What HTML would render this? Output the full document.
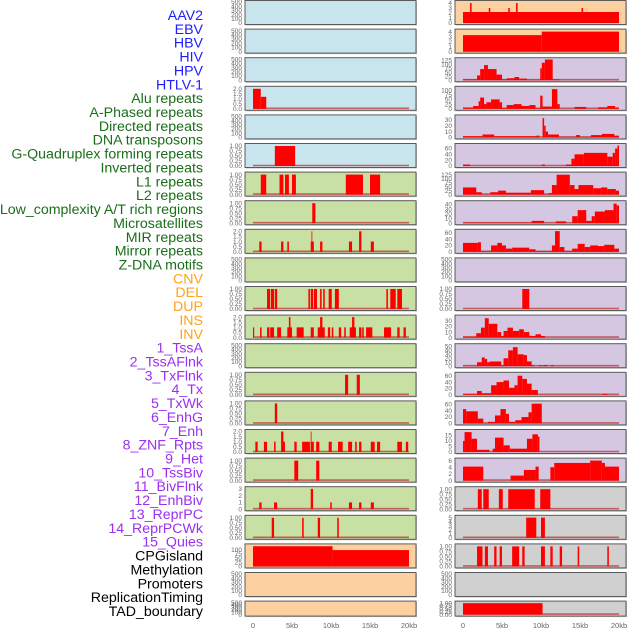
<!DOCTYPE html>
<html><head><meta charset="utf-8"><style>
html,body{margin:0;padding:0;background:#fff;}
svg{display:block;font-family:"Liberation Sans",sans-serif;}
</style></head><body>
<svg id="chart" width="630" height="630" viewBox="0 0 630 630" xmlns="http://www.w3.org/2000/svg"></svg>
<script>
// ---- labels ----
const labelNames = ["AAV2","EBV","HBV","HIV","HPV","HTLV-1","Alu repeats","A-Phased repeats","Directed repeats","DNA transposons","G-Quadruplex forming repeats","Inverted repeats","L1 repeats","L2 repeats","Low_complexity A/T rich regions","Microsatellites","MIR repeats","Mirror repeats","Z-DNA motifs","CNV","DEL","DUP","INS","INV","1_TssA","2_TssAFlnk","3_TxFlnk","4_Tx","5_TxWk","6_EnhG","7_Enh","8_ZNF_Rpts","9_Het","10_TssBiv","11_BivFlnk","12_EnhBiv","13_ReprPC","14_ReprPCWk","15_Quies","CPGisland","Methylation","Promoters","ReplicationTiming","TAD_boundary"];
const labelGroups = ["b","b","b","b","b","b","g","g","g","g","g","g","g","g","g","g","g","g","g","o","o","o","o","o","p","p","p","p","p","p","p","p","p","p","p","p","p","p","p","k","k","k","k","k"];
const xTickValues = [0,5,10,15,20];
const xTickLabels = ["0","5kb","10kb","15kb","20kb"];

// ---- tick sets ----
const T500 = [0,100,200,300,400,500];
const T1 = [0,0.25,0.5,0.75,1];
const T2 = [0,0.5,1,1.5,2];
const T3 = [0,1,2,3];
const T4 = [0,1,2,3,4];
const T5 = [0,1,2,3,4,5];
const T125 = [0,25,50,75,100,125];
const T100 = [0,25,50,75,100];
const T30 = [0,10,20,30];
const T40 = [0,10,20,30,40];
const T50 = [0,10,20,30,40,50];
const T60 = [0,20,40,60];
const T15 = [0,5,10,15];
const T6 = [0,2,4,6];

// ---- left column series: [startKb, endKb, value] ----
const L04 = [[0,1,2],[1,1.7,1.2]];
const L06 = [[2.8,5.4,1]];
const L07 = [[1.0,1.7,1],[3.4,3.9,1],[4.1,4.6,1],[5.0,5.5,1],[11.9,14.1,1],[15.0,16.3,1]];
const L08 = [[7.6,8.0,1]];
const L09 = [[0.8,1.1,1],[3.6,3.9,1],[4.4,4.6,1],[7.4,7.8,1],[7.5,7.6,2],[8.6,8.9,1],[12.3,12.7,1],[13.6,13.9,2],[15.1,15.5,1]];
const L11 = [[1.8,2.2,1],[2.3,2.7,1],[2.8,3.1,1],[7.1,7.3,1],[7.4,7.7,1],[7.8,8.2,1],[8.6,8.8,1],[9.0,9.2,1],[9.7,10.1,1],[10.5,11.0,1],[17.1,17.3,1],[17.6,18.3,1],[18.5,19.1,1]];
const L12 = [[0,0.15,1],[0.9,1.1,1],[1.8,2.1,1],[2.2,2.7,1],[3.1,3.6,1],[4.4,5.0,1],[4.6,4.8,2],[5.6,6.5,1],[7.4,7.8,1],[8.3,9.2,1],[8.6,8.9,2],[9.6,9.9,1],[10.1,10.3,1],[11.0,11.3,1],[11.7,11.9,1],[12.4,13.2,1],[12.7,13.0,2],[13.6,13.9,1],[14.0,14.2,1],[14.5,15.3,1],[16.8,17.7,1],[18.5,18.8,1],[19.3,19.6,1]];
const L14 = [[11.8,12.2,1],[13.3,13.7,1]];
const L15 = [[2.8,3.1,1]];
const L16 = [[0.3,0.6,1],[1.4,1.8,1],[2.7,2.9,1],[3.6,3.9,2],[3.7,4.1,1],[5.3,5.6,1],[6.3,7.3,1],[7.4,7.8,1],[7.4,7.5,2],[8.1,8.5,1],[9.7,10.1,1],[10.9,11.5,1],[12.2,12.7,1],[13.1,13.3,1],[13.6,13.9,1],[15.1,15.6,1],[15.9,16.3,1],[18.5,19.1,1],[19.6,19.9,1]];
const L17 = [[5.3,5.8,1],[8.1,8.5,1]];
const L18 = [[0.8,1.1,1],[2.7,3.1,1],[7.4,7.7,3],[9.9,10.1,1],[12.3,12.7,1],[13.6,13.9,1],[15.1,15.5,1]];
const L19 = [[2.4,2.7,1],[6.3,6.5,1],[8.3,8.6,1],[10.8,11.0,1]];
const L20 = [[0,10.2,120],[10.2,20,97]];

// ---- right column series ----
const R01 = [[0,20,2.2],[0.9,1.1,4],[3.3,3.5,3],[5.8,6.0,3],[6.8,7.0,4],[15.2,15.4,3]];
const R02 = [[0,10.1,3.3],[10.1,20,4]];
const R03 = [[0,1.8,5],[1.8,2.2,30],[2.2,2.7,70],[2.7,3.2,95],[3.2,4.3,70],[4.3,5.0,35],[5.0,5.6,5],[5.6,6.6,12],[6.6,7.2,20],[7.2,8.2,10],[8.2,9.9,3],[9.9,10.1,75],[10.1,10.5,110],[10.5,11.5,130],[11.5,12.4,5]];
const R04 = [[0,1.3,7],[1.3,2.0,15],[2.0,2.2,40],[2.2,2.7,60],[2.7,3.0,25],[3.0,3.6,35],[3.6,4.7,50],[4.7,5.0,35],[5.0,5.6,5],[5.6,6.5,20],[6.5,7.5,25],[7.5,8.5,15],[8.5,9.3,20],[9.3,9.9,3],[9.9,10.2,70],[10.2,11.4,12],[11.4,12.1,105],[12.1,12.4,25],[14.3,15.8,10],[17.3,18.5,8],[18.5,19.5,15],[19.5,20,7]];
const R05 = [[0,2.5,2],[2.5,4,5],[4,9.4,2],[9.4,9.8,3],[10.2,10.4,33],[10.4,10.6,20],[10.6,10.9,10],[10.9,12.3,5],[12.3,14.5,1],[14.5,15,4],[15,16.4,1],[16.4,17.8,4],[17.8,19.4,6],[19.4,20,3]];
const R06 = [[0,0.9,5],[10.1,10.5,5],[13.2,13.9,5],[13.9,14.3,25],[14.3,15.5,40],[15.5,18.5,45],[18.5,19.2,32],[19.2,19.5,45],[19.5,19.8,60],[19.8,20,70]];
const R07 = [[0,1.7,45],[1.7,2.4,15],[2.4,3.5,2],[3.5,4.5,15],[4.5,5.5,25],[5.5,8.7,12],[8.7,10.4,28],[10.4,11.0,2],[11.0,11.4,10],[11.4,12.0,60],[12.0,13.7,125],[13.7,14.3,60],[14.3,14.8,35],[14.8,16.7,60],[16.7,17.7,40],[17.7,18.5,45],[18.5,19.6,35],[19.6,20,25]];
const R08 = [[0,8.8,1],[8.8,10.4,5],[11.9,13.2,4],[14.0,14.7,15],[14.7,15.8,28],[15.8,16.5,5],[16.5,16.9,15],[16.9,18.2,25],[18.2,19.3,28],[19.3,19.7,42],[19.7,20,38]];
const R09 = [[0,1.9,28],[1.9,2.3,30],[2.3,3.6,2],[3.6,4.4,20],[4.4,5.0,28],[5.0,5.5,20],[5.5,6.3,10],[6.3,8.5,13],[8.5,9.3,8],[9.3,11.4,2],[11.4,11.8,20],[11.8,12.4,65],[12.4,13.0,15],[13.0,14.0,2],[14.0,14.7,10],[14.7,15.6,25],[15.6,16.3,15],[16.3,17.3,20],[17.3,18.1,18],[18.1,19.4,22],[19.4,20,10]];
const R11 = [[7.6,8.5,1]];
const R12 = [[0,1.7,2],[1.7,2.3,8],[2.3,2.8,18],[2.8,3.3,35],[3.3,4.4,25],[4.4,4.9,10],[4.9,5.2,3],[5.2,5.7,12],[5.7,6.4,18],[6.4,7.2,12],[7.2,7.8,15],[7.8,8.5,10],[8.5,9.3,3],[9.3,10,6],[10,10.5,3]];
const R13 = [[0,1.8,1],[1.8,2.4,10],[2.4,2.8,22],[2.8,3.1,18],[3.1,3.4,10],[3.4,4.9,12],[4.9,5.2,3],[5.2,5.8,20],[5.8,6.4,40],[6.4,7.0,48],[7.0,7.8,30],[7.8,8.2,28],[8.2,8.8,12],[8.8,9.1,3],[9.8,10.1,3],[10.3,10.8,3],[11.3,11.6,3]];
const R14 = [[0,1.8,2],[1.8,2.4,12],[2.4,3.6,5],[3.6,4.3,30],[4.3,5.2,40],[5.2,5.9,45],[5.9,6.6,22],[6.6,7.0,30],[7.0,7.6,60],[7.6,8.2,50],[8.2,8.8,35],[8.8,9.6,15],[17.9,18.5,3]];
const R15 = [[0,0.4,45],[0.4,1.9,38],[1.9,2.6,15],[2.6,3.2,1],[3.2,4.1,5],[4.1,4.8,25],[4.8,5.5,45],[5.5,5.9,30],[5.9,6.7,5],[6.7,7.5,10],[7.5,8.4,20],[8.4,8.8,35],[8.8,10.1,62]];
const R16 = [[0,0.2,10],[0.2,1.1,18],[1.1,1.8,12],[1.8,3.4,2],[3.8,4.1,3],[4.1,5.2,13],[5.2,6.0,6],[6.0,8.2,3],[8.2,8.9,12],[8.9,9.6,16],[9.6,9.8,14]];
const R17 = [[0,2.6,4.2],[6.1,7.8,1.5],[7.8,9.3,3.2],[9.3,9.7,4.2],[11.2,11.7,4],[11.7,16.3,5.3],[16.3,17.8,6],[17.8,18.2,5.3],[18.2,20,4.2]];
const R18 = [[1.9,2.4,1],[2.6,3.3,1],[4.6,5.1,1],[5.8,9.2,1],[9.9,11.2,1]];
const R19 = [[8.1,9.4,5],[10.0,10.5,5]];
const R20 = [[1.8,2.5,1],[2.8,3.2,1],[4.0,4.3,1],[4.7,5.0,1],[6.3,7.2,1],[7.6,7.9,1],[10.0,10.5,1],[11.2,11.5,1],[12.4,12.7,1],[14.7,14.9,1],[18.5,18.7,1]];
const R22 = [[0,10.2,1]];

// ---- panel config: [series, ymax, ticks, background, baseline] ----
const BL="#c8e4ec", GR="#c8e0a3", OR="#fdd09f", PU="#d5c6e2", GY="#d0d0d0";
const leftPanels = [
 [[],500,T500,BL,0],[[],500,T500,BL,0],[[],500,T500,BL,0],[L04,2.1,T2,BL,1],[[],500,T500,BL,0],[L06,1.05,T1,BL,1],
 [L07,1.05,T1,GR,1],[L08,1.05,T1,GR,1],[L09,2.05,T2,GR,1],[[],500,T500,GR,0],[L11,1.05,T1,GR,1],[L12,2.05,T2,GR,1],
 [[],500,T500,GR,0],[L14,1.05,T1,GR,1],[L15,1.05,T1,GR,1],[L16,2.05,T2,GR,1],[L17,1.05,T1,GR,1],[L18,3.1,T3,GR,1],
 [L19,1.05,T1,GR,1],[L20,125,T100,OR,1],[[],500,T500,OR,0],[[],500,T500,OR,0]];
const rightPanels = [
 [R01,4.2,T4,OR,1],[R02,4.2,T4,OR,1],[R03,132,T125,PU,1],[R04,112,T100,PU,1],[R05,36,T30,PU,1],[R06,72,T60,PU,1],
 [R07,132,T125,PU,1],[R08,45,T40,PU,1],[R09,66,T60,PU,1],[[],500,T500,PU,0],[R11,1.05,T1,PU,1],[R12,38,T30,PU,1],
 [R13,53,T50,PU,1],[R14,66,T60,PU,1],[R15,66,T60,PU,1],[R16,19,T15,PU,1],[R17,6.3,T6,PU,1],[R18,1.05,T1,GY,1],
 [R19,5.2,T5,GY,1],[R20,1.05,T1,GY,1],[[],500,T500,GY,0],[R22,1.05,T1,GY,1]];

const NS="http://www.w3.org/2000/svg";
const svg=document.getElementById('chart');
function mk(tag,attrs,parent){const e=document.createElementNS(NS,tag);for(const k in attrs)e.setAttribute(k,attrs[k]);(parent||svg).appendChild(e);return e;}

const colors={b:"#1d1dff",g:"#1a6e1a",o:"#ffa31a",p:"#9b30f0",k:"#000000"};
labelNames.forEach((n,i)=>{
  const t=mk('text',{x:203,y:15+i*13.86+5,'text-anchor':'end','font-size':'14.2',fill:colors[labelGroups[i]]});
  t.textContent=n;
  
  
});

function fmt(v,ticks){const st=ticks[1]-ticks[0];if(st<0.5)return v.toFixed(2);if(st<1)return v.toFixed(1);return String(v);}

function drawColumn(panels,px0,pw,xz,col){
  const xs=kb=>xz+kb*7.8;
  panels.forEach((p,i)=>{
    const [series,ymax,ticks,bg,base]=p;
    const top=i*28.6+0.5, h=(i===21)?15:24;
    const g=mk('g',{});
    
    
    mk('rect',{x:px0+1,y:top+1,width:pw,height:h,fill:'#999','opacity':0.6},g);
    mk('rect',{x:px0,y:top,width:pw,height:h,fill:bg,stroke:'#5a5a5a','stroke-width':1},g);
    const y0=top+h-1.5, yr=h-3;
    const ys=v=>y0-v/ymax*yr;
    ticks.forEach(tv=>{
      const t=mk('text',{x:px0-3,y:ys(tv)+2.2,'text-anchor':'end','font-size':'6.5',fill:'#666'},g);
      t.textContent=fmt(tv,ticks);
      
      
    });
    if(base){
      const bl=mk('line',{x1:xs(0),x2:xs(20),y1:y0-0.5,y2:y0-0.5,stroke:'#c04040','stroke-width':1.6,opacity:0.8},g);
      
      
    }
    series.forEach(s=>{
      const r=mk('rect',{x:xs(s[0]),y:ys(s[2]),width:Math.max(0.8,xs(s[1])-xs(s[0])),height:y0-ys(s[2]),fill:'#ff0000'},g);
      
      
    });
  });
  xTickValues.forEach((v,j)=>{
    const t=mk('text',{x:xs(v),y:628,'text-anchor':'middle','font-size':'7.5',fill:'#666'});
    t.textContent=xTickLabels[j];
    
    
  });
}
drawColumn(leftPanels,245,171,253,'left');
drawColumn(rightPanels,455,171,463,'right');
</script>
</body></html>
